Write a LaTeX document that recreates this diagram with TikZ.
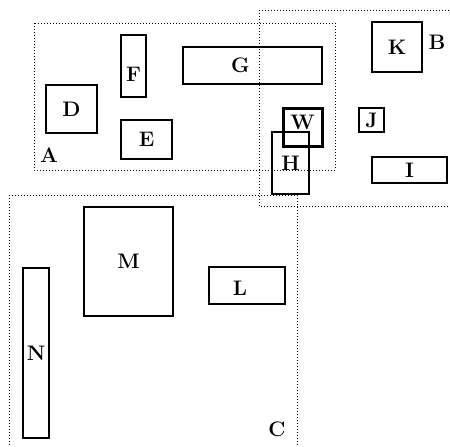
\documentclass[tikz,border=0pt]{standalone}
\usepackage{amsmath}
\usepackage{tikz}

\begin{document}
\begin{tikzpicture}[
x=1pt, y=-1pt,
box/.style={rectangle, draw=black, line width=1.1pt, inner sep=0pt, outer sep=0pt, font=\fontsize{21}{24}\selectfont\bfseries},
thickbox/.style={box, line width=3pt},
lbl/.style={inner sep=0pt, font=\fontsize{21}{24}\selectfont\bfseries},
region/.style={draw=black, line width=1pt, dash pattern=on 1pt off 2pt}
]
\useasboundingbox (0,0) rectangle (450,447);

%Boxes
\node[box, minimum width=51, minimum height=48]   (d) at (71.5,109)   {D};
\node[box, minimum width=25, minimum height=62]   (f) at (133.5,66)   {};
\node[box, minimum width=51, minimum height=39]   (e) at (146.5,139.5) {E};
\node[box, minimum width=139, minimum height=37]  (g) at (252.5,65.5) {};
\node[box, minimum width=50, minimum height=50]   (k) at (397,47)     {K};
\node[thickbox, minimum width=39, minimum height=38] (w) at (302.5,127) {};
\node[box, minimum width=37, minimum height=62]   (h) at (290.5,163)  {H};
\node[box, minimum width=25, minimum height=24]   (j) at (371.5,120)  {J};
\node[box, minimum width=75, minimum height=26]   (i) at (409.5,170)  {I};
\node[box, minimum width=89, minimum height=109]  (m) at (128.5,261.5) {M};
\node[box, minimum width=76, minimum height=37]   (l) at (247,285.5)  {};
\node[box, minimum width=26, minimum height=170]  (n) at (36,353)     {N};

%Labels
\node[lbl] (fl) at ([yshift=-8pt]f.center)  {F};
\node[lbl] (gl) at ([xshift=-12pt]g.center) {G};
\node[lbl] (wl) at ([yshift=5pt]w.center)   {W};
\node[lbl] (ll) at ([xshift=-7pt, yshift=-3pt]l.center) {L};
\node[lbl] (al) at (49,155)  {A};
\node[lbl] (bl) at (437,42)  {B};
\node[lbl] (cl) at (277,429) {C};

%Regions
\draw[region] (34,23) rectangle (335,170);
\draw[region] (259,10) rectangle (458,206);
\draw[region] (9,195) rectangle (297,455);
\end{tikzpicture}
\end{document}
